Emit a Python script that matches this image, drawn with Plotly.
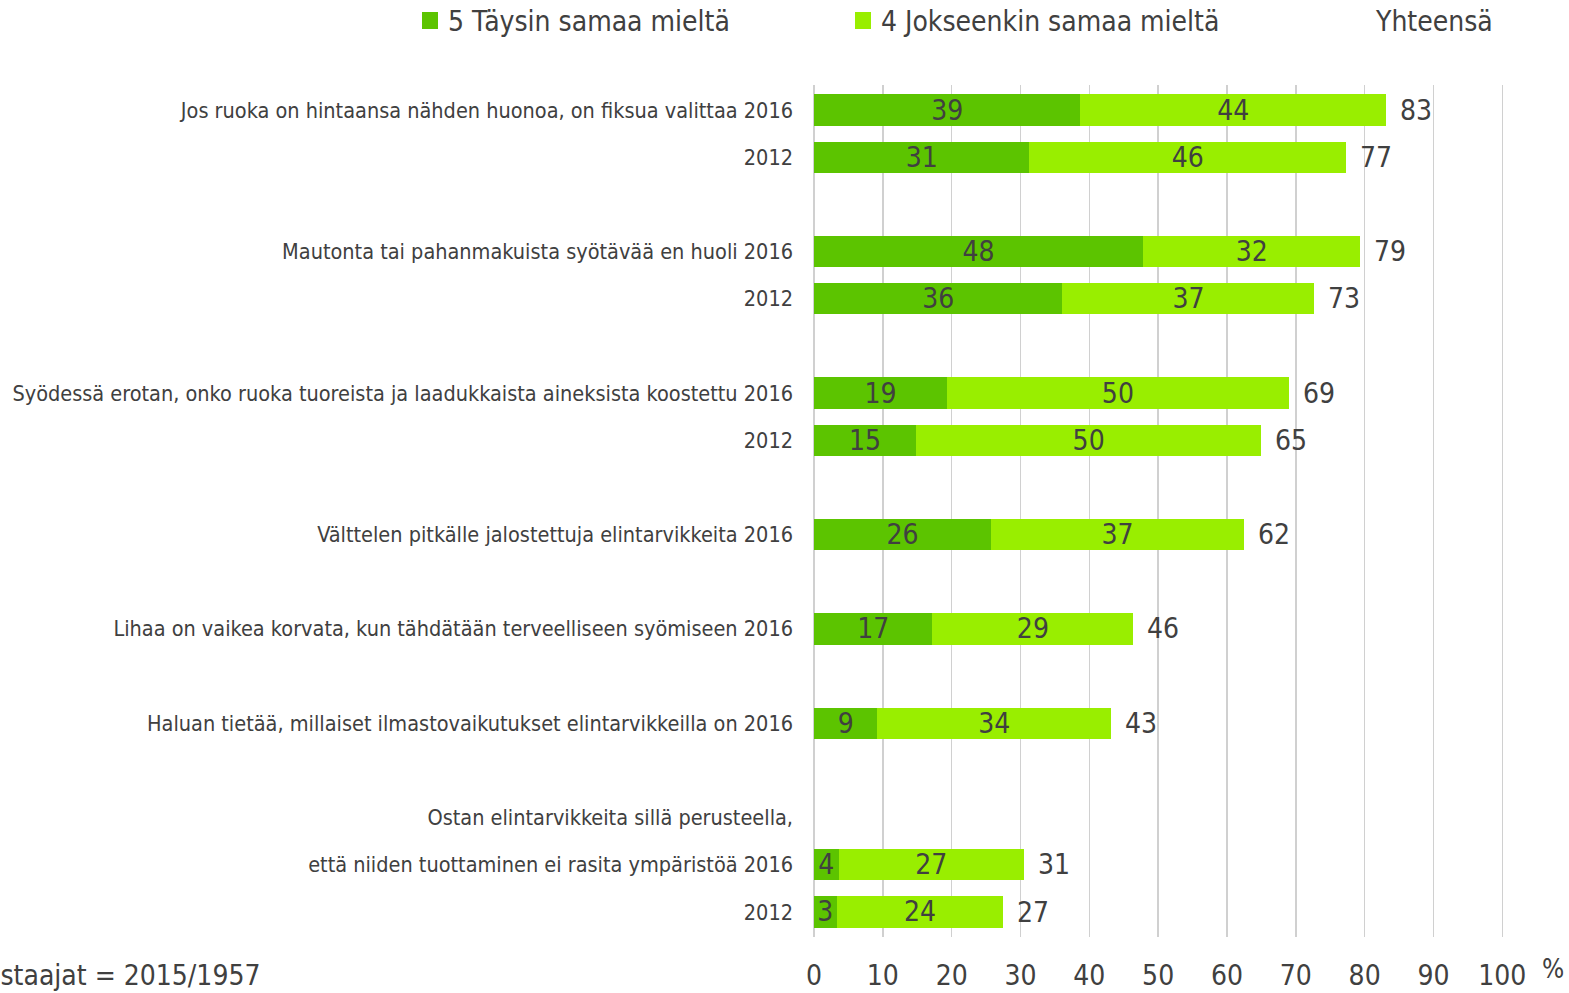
import plotly.graph_objects as go

# Row labels (top to bottom); empty strings are spacer rows
row_labels = [
    "Jos ruoka on hintaansa nähden huonoa, on fiksua valittaa 2016",
    "2012",
    "",
    "Mautonta tai pahanmakuista syötävää en huoli 2016",
    "2012",
    "",
    "Syödessä erotan, onko ruoka tuoreista ja laadukkaista aineksista koostettu 2016",
    "2012",
    "",
    "Välttelen pitkälle jalostettuja elintarvikkeita 2016",
    "",
    "Lihaa on vaikea korvata, kun tähdätään terveelliseen syömiseen 2016",
    "",
    "Haluan tietää, millaiset ilmastovaikutukset elintarvikkeilla on 2016",
    "",
    "Ostan elintarvikkeita sillä perusteella,",
    "että niiden tuottaminen ei rasita ympäristöä 2016",
    "2012",
]

# Series values (None = no bar on this row)
taysin = [38.7, 31.3, None, 47.8, 36.1, None, 19.3, 14.8, None, 25.7, None, 17.2, None, 9.2, None, None, 3.6, 3.3]
jokseenkin = [44.4, 46.0, None, 31.6, 36.6, None, 49.7, 50.2, None, 36.8, None, 29.2, None, 34.0, None, None, 26.9, 24.2]

taysin_labels = ["39", "31", "", "48", "36", "", "19", "15", "", "26", "", "17", "", "9", "", "", "4", "3"]
jokseenkin_labels = ["44", "46", "", "32", "37", "", "50", "50", "", "37", "", "29", "", "34", "", "", "27", "24"]
yhteensa_labels = ["83", "77", "", "79", "73", "", "69", "65", "", "62", "", "46", "", "43", "", "", "31", "27"]

series_names = ["5 Täysin samaa mieltä", "4 Jokseenkin samaa mieltä"]
total_name = "Yhteensä"
x_ticks = [0, 10, 20, 30, 40, 50, 60, 70, 80, 90, 100]

FONT = "DejaVu Sans Condensed, Liberation Sans Narrow, Open Sans, sans-serif"
TXT = "#404040"
DARK = "#5CC400"
LIGHT = "#99EE00"
colors = [DARK, LIGHT]

rows = list(range(len(row_labels)))

W, H = 1569, 993
L, R, T, B = 814, 65, 85, 56
PW, PH = W - L - R, H - T - B
X_MAX = 100.25


def px_x(x):
    return (x - L) / PW


def px_y(y):
    return 1 - (y - T) / PH


fig = go.Figure()
for name, vals, labs, col in [
    (series_names[0], taysin, taysin_labels, DARK),
    (series_names[1], jokseenkin, jokseenkin_labels, LIGHT),
]:
    fig.add_trace(go.Bar(
        y=rows, x=vals, orientation="h", name=name,
        marker=dict(color=col, line=dict(width=0)), width=0.66,
        text=labs, textposition="inside", insidetextanchor="middle", textangle=0,
        constraintext="none",
        textfont=dict(size=28, color=TXT, family=FONT), cliponaxis=False,
        showlegend=False,
    ))

annotations = []
for i, lab in enumerate(yhteensa_labels):
    if lab and taysin[i] is not None:
        annotations.append(dict(
            x=taysin[i] + jokseenkin[i], y=i, xref="x", yref="y",
            text=lab, showarrow=False, xanchor="left", xshift=12,
            font=dict(size=28, color=TXT, family=FONT),
        ))

# legend drawn manually (markers + text)
shapes = []
legend_marker_x = [422, 855]
for name, col, mx in zip(series_names, colors, legend_marker_x):
    shapes.append(dict(type="rect", xref="paper", yref="paper",
                       x0=px_x(mx), x1=px_x(mx + 16), y0=px_y(29), y1=px_y(12),
                       fillcolor=col, line=dict(width=0)))
    annotations.append(dict(x=px_x(mx + 24), y=px_y(21), xref="paper", yref="paper",
                            text=name, showarrow=False, xanchor="left", yanchor="middle",
                            font=dict(size=28, color=TXT, family=FONT)))
annotations.append(dict(x=px_x(1373), y=px_y(21), xref="paper", yref="paper", text=total_name,
                        showarrow=False, xanchor="left", yanchor="middle",
                        font=dict(size=28, color=TXT, family=FONT)))
annotations.append(dict(x=px_x(1540), y=px_y(969), xref="paper", yref="paper", text="%",
                        showarrow=False, xanchor="left", yanchor="middle",
                        font=dict(size=26, color=TXT, family=FONT)))
annotations.append(dict(x=px_x(262), y=px_y(975), xref="paper", yref="paper",
                        text="Vastaajat = 2015/1957", showarrow=False,
                        xanchor="right", yanchor="middle",
                        font=dict(size=28, color=TXT, family=FONT)))

fig.update_layout(
    width=W, height=H,
    barmode="stack",
    margin=dict(l=L, r=R, t=T, b=B),
    paper_bgcolor="white", plot_bgcolor="white",
    font=dict(family=FONT, color=TXT),
    uniformtext=dict(minsize=28, mode="show"),
    annotations=annotations,
    shapes=shapes,
    showlegend=False,
    xaxis=dict(
        range=[0, X_MAX], tickvals=x_ticks, ticktext=[str(v) for v in x_ticks],
        showgrid=True, gridcolor="#D0D0D0", gridwidth=1.5,
        zeroline=True, zerolinecolor="#D0D0D0", zerolinewidth=1.5,
        showline=False, ticks="", ticklabelstandoff=19, automargin=False,
        tickfont=dict(size=28, color=TXT, family=FONT), fixedrange=True,
    ),
    yaxis=dict(
        range=[17.53, -0.53], tickvals=rows, ticktext=row_labels,
        showgrid=False, zeroline=False, showline=False, ticks="",
        ticklabelstandoff=20, automargin=False,
        tickfont=dict(size=21.5, color=TXT, family=FONT), fixedrange=True,
    ),
)

fig.write_html(
    "out.html",
    config={"displayModeBar": False, "staticPlot": True},
    post_script="document.body.style.margin='0';document.body.style.overflow='hidden';",
)
